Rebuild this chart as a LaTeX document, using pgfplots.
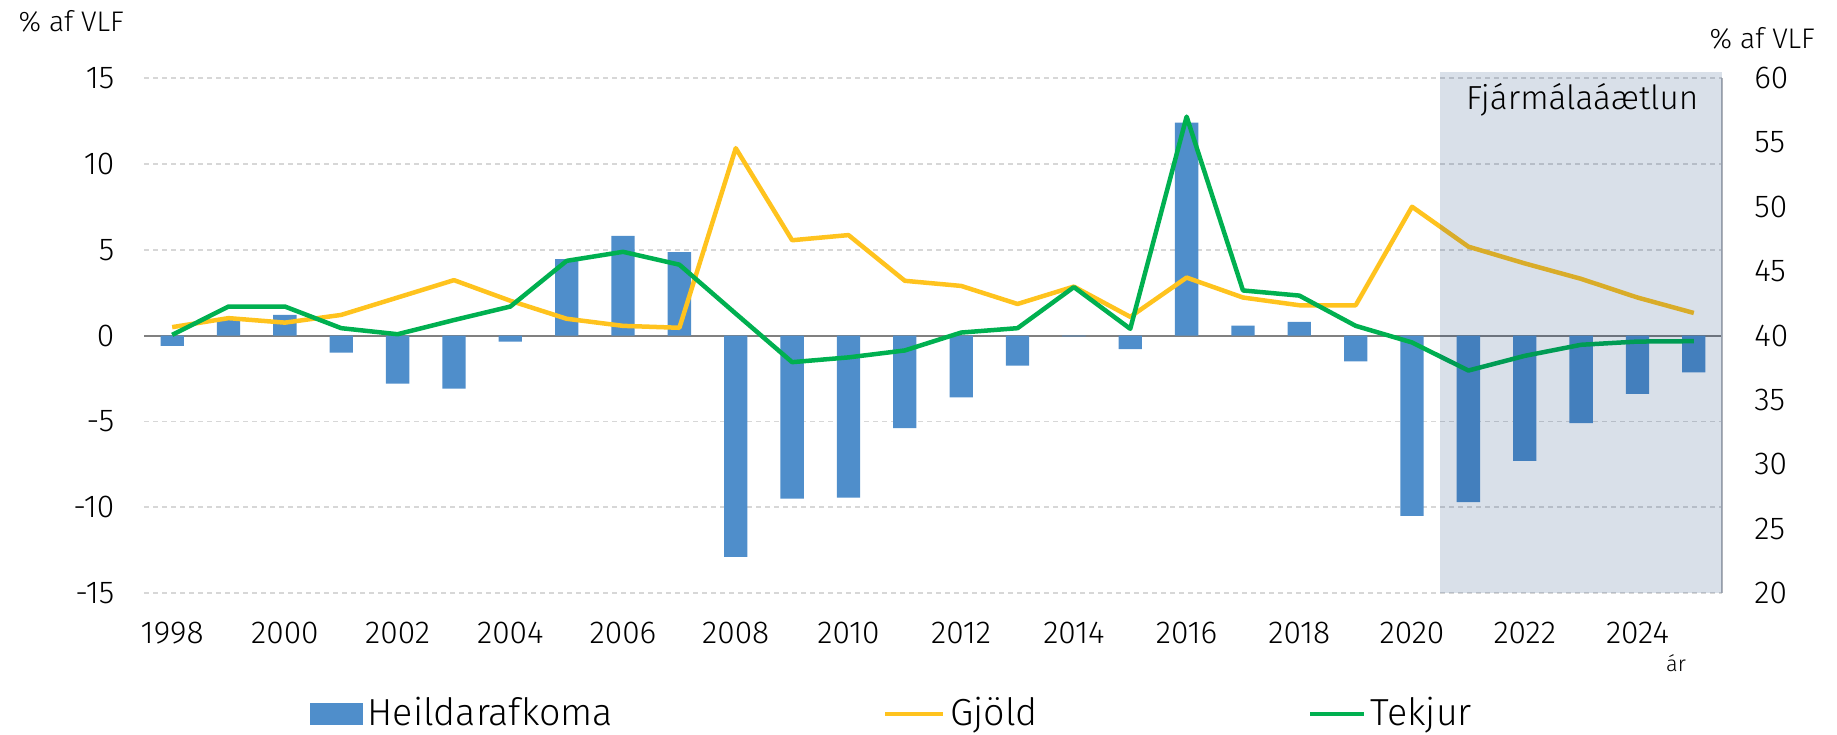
\documentclass[border=0pt]{standalone}
\usepackage{pgfplots}
\pgfplotsset{compat=1.18}
\usepackage{fontspec}
\setmainfont{Fira Sans}[UprightFont=* Light]
\definecolor{barblue}{RGB}{79,142,203}
\definecolor{gyellow}{RGB}{255,195,30}
\definecolor{tgreen}{RGB}{0,176,80}
\definecolor{fcshade}{RGB}{0,45,110}
\definecolor{gridgray}{RGB}{215,215,215}
\begin{document}
\begin{tikzpicture}
\useasboundingbox (0pt,0pt) rectangle (551.1pt,220.2pt);
\begin{axis}[
  at={(43.2pt,42.3pt)}, anchor=south west,
  width=473.4pt, height=154.5pt, scale only axis,
  xmin=1997.5, xmax=2025.5, ymin=-15, ymax=15,
  xtick={1998,2000,...,2024},
  xticklabels={1998,2000,2002,2004,2006,2008,2010,2012,2014,2016,2018,2020,2022,2024},
  ytick={-15,-10,...,15},
  axis line style={draw=none}, tick style={draw=none},
  ymajorgrids, major grid style={draw=gridgray, line width=0.5pt, dash pattern=on 1.5pt off 1.2pt},
  extra y ticks={0}, extra y tick labels={},
  extra y tick style={grid=major, major grid style={draw=gray, solid, line width=0.6pt}},
  /pgf/number format/assume math mode=true,
  tick label style={font=\fontsize{9.5}{11}\selectfont, text=black},
  yticklabel style={inner sep=0pt, xshift=-8.7pt},
  xticklabel style={inner sep=0pt, yshift=-8.6pt},
]
\addplot[ybar, bar width=7pt, fill=barblue, draw=none] coordinates {
(1998,-0.6) (1999,0.9) (2000,1.2) (2001,-1.0) (2002,-2.8) (2003,-3.1) (2004,-0.35)
(2005,4.45) (2006,5.8) (2007,4.85) (2008,-12.9) (2009,-9.5) (2010,-9.45) (2011,-5.4)
(2012,-3.6) (2013,-1.75) (2014,-0.05) (2015,-0.8) (2016,12.4) (2017,0.57) (2018,0.8)
(2019,-1.5) (2020,-10.5) (2021,-9.7) (2022,-7.3) (2023,-5.1) (2024,-3.4) (2025,-2.15)
};
\end{axis}
\begin{axis}[
  at={(43.2pt,42.3pt)}, anchor=south west,
  width=473.4pt, height=154.5pt, scale only axis,
  xmin=1997.5, xmax=2025.5, ymin=20, ymax=60,
  clip=false,
  hide x axis,
  axis y line*=right,
  y axis line style={draw={rgb,255:red,175;green,178;blue,185}, line width=0.8pt},
  ytick={20,25,...,60},
  ytick style={draw=none},
  /pgf/number format/assume math mode=true,
  yticklabel style={font=\fontsize{9.5}{11}\selectfont, inner sep=0pt, xshift=9.5pt},
  legend columns=3,
  legend style={draw=none, fill=none, at={(0.105,-0.235)}, anchor=west, inner sep=0pt, outer sep=0pt,
    font=\fontsize{11.3}{13}\selectfont,
    nodes={inner sep=0pt},
    /tikz/every odd column/.append style={column sep=1.5pt},
    /tikz/every even column/.append style={column sep=81pt}},
]
\addlegendimage{legend image code/.code={\fill[barblue] (0pt,-3pt) rectangle (15.5pt,3pt);}}
\addlegendentry{Heildarafkoma}
\addplot[gyellow, line width=1.35pt, line join=round,
  legend image code/.code={\draw[gyellow, line width=1.35pt] (0pt,0pt) -- (17.4pt,0pt);}] coordinates {
(1998,40.65) (1999,41.35) (2000,41.0) (2001,41.6) (2002,42.95) (2003,44.3) (2004,42.7)
(2005,41.3) (2006,40.75) (2007,40.6) (2008,54.55) (2009,47.4) (2010,47.8) (2011,44.25)
(2012,43.85) (2013,42.45) (2014,43.8) (2015,41.45) (2016,44.5) (2017,42.95) (2018,42.35)
(2019,42.35) (2020,50.0) (2021,46.9) (2022,45.6) (2023,44.4) (2024,42.95) (2025,41.75)
};
\addlegendentry{Gjöld}
\addplot[tgreen, line width=1.35pt, line join=round,
  legend image code/.code={\draw[tgreen, line width=1.35pt] (0pt,0pt) -- (16pt,0pt);}] coordinates {
(1998,40.05) (1999,42.25) (2000,42.25) (2001,40.57) (2002,40.1) (2003,41.2) (2004,42.25)
(2005,45.8) (2006,46.5) (2007,45.5) (2008,41.7) (2009,37.93) (2010,38.3) (2011,38.84)
(2012,40.23) (2013,40.57) (2014,43.76) (2015,40.52) (2016,57.0) (2017,43.5) (2018,43.1)
(2019,40.75) (2020,39.46) (2021,37.28) (2022,38.42) (2023,39.28) (2024,39.53) (2025,39.56)
};
\addlegendentry{Tekjur}
\fill[fill=fcshade, fill opacity=0.15] (axis cs:2020.5,20) rectangle (axis cs:2025.5,60.47);
\node[font=\fontsize{10}{12}\selectfont, inner sep=0pt] at (axis cs:2023.02,58.27) {Fjármálaáætlun};
\end{axis}
\node[anchor=west, inner sep=0pt, font=\fontsize{8.5}{10}\selectfont] at (5.4pt,213.9pt) {\% af VLF};
\node[anchor=west, inner sep=0pt, font=\fontsize{8.5}{10}\selectfont] at (512.7pt,208.8pt) {\% af VLF};
\node[inner sep=0pt, font=\fontsize{6.5}{8}\selectfont] at (502.8pt,21.3pt) {ár};
\end{tikzpicture}
\end{document}
